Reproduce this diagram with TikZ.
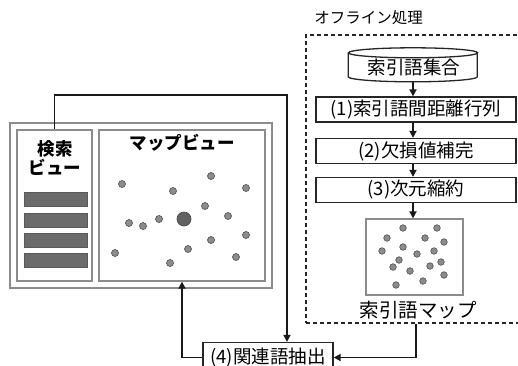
\documentclass[tikz,border=0pt]{standalone}
\usepackage{fontspec}
\setmainfont{Noto Sans CJK JP}
\usetikzlibrary{arrows.meta}
\begin{document}
\begin{tikzpicture}[x=1pt,y=-1pt,
  box/.style={draw=black!85,line width=1.3pt,fill=white,minimum width=200pt,minimum height=25pt,inner sep=0pt,font=\fontsize{18.5}{20}\selectfont},
  conn/.style={line width=1.7pt,draw=black!90},
  arr/.style={conn,-{Triangle[length=7pt,width=7pt]}},
  pane/.style={draw=black!45,line width=1.3pt,inner sep=0pt},
  dot/.style={circle,draw=black!65,fill=black!45,line width=0.7pt,minimum size=7pt,inner sep=0pt},
  mdot/.style={dot,minimum size=6.5pt},
  bar/.style={draw=black!65,fill=black!58,line width=0.8pt,minimum width=63pt,minimum height=14pt,inner sep=0pt},
  lbl/.style={font=\fontsize{18.5}{20}\selectfont,inner sep=0pt}
]
\useasboundingbox (0,0) rectangle (518,365);
% left panel
\node[pane,minimum width=262pt,minimum height=165pt] (panel) at (141,205.5) {};
\node[pane,minimum width=75pt,minimum height=151pt] (search) at (54.5,205.5) {};
\node[pane,minimum width=166pt,minimum height=151pt] (mapview) at (182,205.5) {};
\node[font=\fontsize{17.5}{19}\selectfont\bfseries,align=center,inner sep=0pt] (stitle) at (55,157.5) {検索\\ビュー};
\node[font=\fontsize{17.5}{19}\selectfont\bfseries,inner sep=0pt] (mtitle) at (182,143) {マップビュー};
\node[bar] (b1) at (55.5,199) {};
\node[bar] (b2) at (55.5,220) {};
\node[bar] (b3) at (55.5,240) {};
\node[bar] (b4) at (55.5,260) {};
% map view dots
\foreach \i/\p in {1/{(122,184)},2/{(173,191)},3/{(211,176)},4/{(246,188)},5/{(205,206)},6/{(228,216)},7/{(129,223)},8/{(143,226)},9/{(159,219)},10/{(246,235)},11/{(211,240)},12/{(188,249)},13/{(236,257)},14/{(115,253)},15/{(170,263)}}
  \node[dot] (v\i) at \p {};
\node[dot,minimum size=14pt,fill=black!62,draw=black!70] (vbig) at (184,219) {};
% offline processing
\node[draw=black!85,dash pattern=on 4pt off 3pt,line width=1.2pt,minimum width=224pt,minimum height=288pt,inner sep=0pt] (offline) at (418,179) {};
\node[font=\fontsize{15.5}{17}\selectfont,inner sep=0pt] (otitle) at (368.5,18) {オフライン処理};
\node[minimum width=129pt,minimum height=34pt,inner sep=0pt] (cyl) at (413,65) {};
\draw[draw=black!85,line width=1.3pt,fill=white] (cyl.north west) ++(0,5) -- ++(0,24) arc[start angle=180,end angle=0,x radius=64.5,y radius=5] -- ++(0,-24);
\draw[draw=black!85,line width=1.3pt] (cyl.north) ++(0,5) ellipse [x radius=64.5,y radius=5];
\node[lbl] (cyltext) at (414,67) {索引語集合};
\node[box] (s1) at (416,109.5) {(1)索引語間距離行列};
\node[box] (s2) at (416,151) {(2)欠損値補完};
\node[box] (s3) at (416,190) {(3)次元縮約};
\node[pane,minimum width=97pt,minimum height=76pt] (mapimg) at (414.5,257) {};
\foreach \i/\p in {1/{(403,228)},2/{(437,228)},3/{(387,238)},4/{(425,238)},5/{(444,242)},6/{(403,247)},7/{(382,251)},8/{(417,254)},9/{(434,251)},10/{(399,260)},11/{(441,262)},12/{(393,267)},13/{(410,271)},14/{(430,266)},15/{(444,275)},16/{(423,281)},17/{(396,285)}}
  \node[mdot] (m\i) at \p {};
\node[lbl,font=\fontsize{19.5}{21}\selectfont] (mlabel) at (418,310) {索引語マップ};
\node[box,minimum width=130pt,minimum height=30pt] (s4) at (268,357.5) {(4)関連語抽出};
% connectors
\coordinate (turn) at (287,95);
\coordinate (mvx) at (182,0);
\coordinate (ox) at (416,0);
\coordinate (mvin) at (mvx |- mapview.south);
\coordinate (offout) at (ox |- offline.south);
\draw[arr] (cyl.south) -- (s1.north -| cyl.south);
\draw[arr] (s1.south -| cyl.south) -- (s2.north -| cyl.south);
\draw[arr] (s2.south -| cyl.south) -- (s3.north -| cyl.south);
\draw[arr] (s3.south -| cyl.south) -- (mapimg.north -| cyl.south);
\draw[arr] (search.north) |- (turn) -- (turn |- s4.north);
\draw[arr] (s4.west) -| (mvin);
\draw[arr] (offout) |- (s4.east);
\end{tikzpicture}
\end{document}
